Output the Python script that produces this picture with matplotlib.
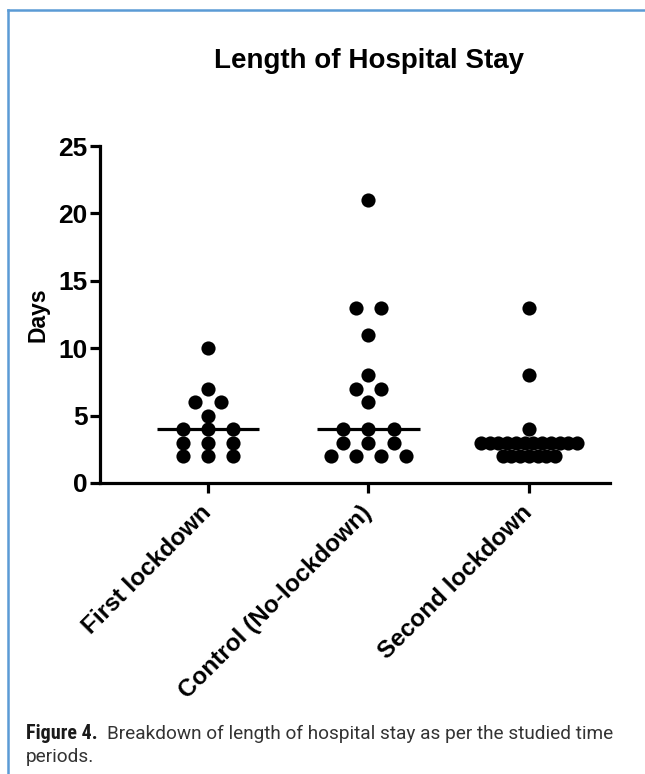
import numpy as np
import matplotlib
matplotlib.use('Agg')
import matplotlib.pyplot as plt
from matplotlib.lines import Line2D
from matplotlib import font_manager

# values (days)
groups = ['First lockdown', 'Control (No-lockdown)', 'Second lockdown']
first_lockdown = [10, 7, 6, 6, 5, 4, 4, 4, 3, 3, 3, 2, 2, 2]
control = [21, 13, 13, 11, 8, 7, 7, 6, 4, 4, 4, 3, 3, 3, 2, 2, 2, 2]
second_lockdown = [13, 8, 4] + [3] * 12 + [2] * 7
yticks = [0, 5, 10, 15, 20, 25]

title = 'Length of Hospital Stay'
ylabel = 'Days'
cap_bold = 'Figure 4.'
cap_text = 'Breakdown of length of hospital stay as per the studied time'
cap_text2 = 'periods.'

plt.rcParams['font.family'] = ['Liberation Sans', 'DejaVu Sans']

# a condensed face for the caption label if one is installed
narrow = None
for fam in ['Liberation Sans Narrow', 'Roboto Condensed', 'Open Sans Condensed']:
    try:
        font_manager.findfont(font_manager.FontProperties(family=fam),
                              fallback_to_default=False)
        narrow = fam
        break
    except ValueError:
        pass

W, H = 645, 774
fig = plt.figure(figsize=(W / 100, H / 100), dpi=100)
ax = fig.add_axes([100 / W, 1 - 483 / H, 510 / W, 337 / H])


def swarm(vals, step=0.156, max_span=0.60):
    vals = np.asarray(vals)
    uniq, counts = np.unique(vals, return_counts=True)
    nmax = counts.max()
    if nmax > 1:
        step = min(step, max_span / (nmax - 1))
    xs, ys = [], []
    for v, n in zip(uniq, counts):
        offs = (np.arange(n) - (n - 1) / 2) * step
        xs.extend(offs)
        ys.extend([v] * n)
    return np.array(xs), np.array(ys)


data = [first_lockdown, control, second_lockdown]
for i, vals in enumerate(data):
    dx, yy = swarm(vals)
    med = np.median(vals)
    ax.plot([i - 0.32, i + 0.32], [med, med], color='black', lw=2.3, zorder=2,
            solid_capstyle='butt')
    ax.plot(i + dx, yy, 'o', color='black', ms=10.2, mew=0, zorder=3)

ax.set_xlim(-0.673, 2.505)
ax.set_ylim(0, 25)
ax.set_yticks(yticks)
ax.set_xticks(range(len(groups)))
ax.set_xticklabels(groups, rotation=45, ha='right', va='center',
                   rotation_mode='anchor', fontsize=17.5, fontweight='bold')
for lab in ax.get_yticklabels():
    lab.set_fontsize(19)
    lab.set_fontweight('bold')
ax.tick_params(axis='y', length=7, width=2.3, pad=2)
ax.tick_params(axis='x', length=7, width=2.3, pad=12)
for s in ['top', 'right']:
    ax.spines[s].set_visible(False)
for s in ['left', 'bottom']:
    ax.spines[s].set_linewidth(2.3)
ax.set_ylabel(ylabel, fontsize=16.5, fontweight='bold', labelpad=6)

fig.text(369 / W, 1 - 68 / H, title, ha='center', va='baseline',
         fontsize=20, fontweight='bold')

# blue frame around the figure panel
frame_c = '#5b9bd5'
fig.add_artist(Line2D([8 / W, 8 / W], [0, 1 - 10 / H], color=frame_c, lw=1.8,
                      transform=fig.transFigure))
fig.add_artist(Line2D([8 / W, 1], [1 - 10 / H, 1 - 10 / H], color=frame_c, lw=1.8,
                      transform=fig.transFigure))

# caption
if narrow:
    t1 = fig.text(26 / W, 1 - 739 / H, cap_bold, ha='left', va='baseline',
                  fontsize=14.5, fontweight='bold', color='#1a1a1a', family=narrow)
else:
    t1 = fig.text(26 / W, 1 - 739 / H, cap_bold, ha='left', va='baseline',
                  fontsize=12.5, fontweight='bold', color='#1a1a1a')
r = fig.canvas.get_renderer()
x_end = t1.get_window_extent(r).x1
fig.text((x_end + 9) / W, 1 - 739 / H, cap_text, ha='left', va='baseline',
         fontsize=13.7, color='#333333', family=['Roboto', 'DejaVu Sans'])
fig.text(26 / W, 1 - 762 / H, cap_text2, ha='left', va='baseline',
         fontsize=13.7, color='#333333', family=['Roboto', 'DejaVu Sans'])

fig.savefig('out.png', dpi=100)
